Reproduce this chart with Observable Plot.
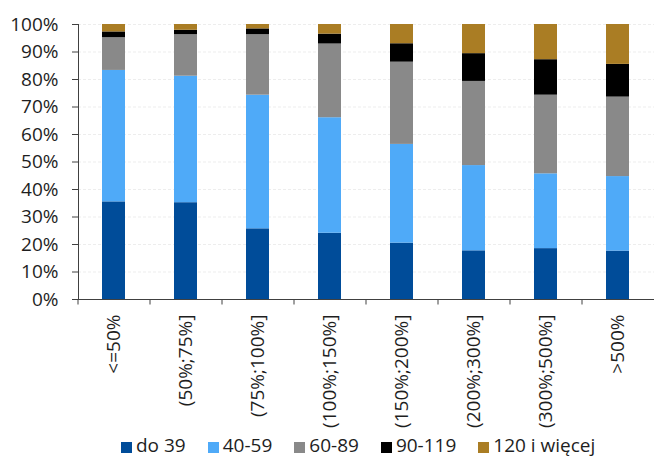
<!DOCTYPE html>
<html>
<head>
<meta charset="utf-8">
<script src="https://cdn.jsdelivr.net/npm/d3@7"></script>
<script src="https://cdn.jsdelivr.net/npm/@observablehq/plot@0.6"></script>
<style>
  html, body { margin: 0; padding: 0; background: #fff; }
  #chart { width: 654px; height: 457px; position: relative; font-family: "Open Sans", sans-serif; color: #1e1e1e; overflow: hidden; }
  #chart svg { position: absolute; left: 0; top: 0; }
  #legend { position: absolute; left: 121px; top: 436px; display: flex; align-items: flex-start; font-size: 19px; white-space: nowrap; }
  #legend .item { display: flex; align-items: flex-start; margin-right: 22px; }
  #legend .sw { width: 11px; height: 11px; margin-top: 6px; margin-right: 4px; }
  #legend .txt { display: inline-block; line-height: 19px; height: 19px; }
</style>
</head>
<body>
<div id="chart"></div>
<script>
// Share of each group per range bucket (percent, each bucket sums to 100)
const categories = ["<=50%", "(50%;75%]", "(75%;100%]", "(100%;150%]", "(150%;200%]", "(200%;300%]", "(300%;500%]", ">500%"];
const seriesNames = ["do 39", "40-59", "60-89", "90-119", "120 i więcej"];
const seriesColors = ["#004c99", "#4faaf8", "#898989", "#000000", "#aa7d24"];

const do39 = [35.5, 35.2, 25.7, 24.1, 20.5, 17.7, 18.5, 17.6];
const s40to59 = [47.8, 46.0, 48.6, 42.0, 35.9, 31.0, 27.2, 27.1];
const s60to89 = [11.9, 15.1, 22.0, 26.8, 29.9, 30.6, 28.6, 28.9];
const s90to119 = [2.1, 1.6, 2.1, 3.6, 6.7, 10.1, 12.9, 11.9];
const s120plus = [2.7, 2.1, 1.6, 3.5, 7.0, 10.6, 12.8, 14.5];

const yTicks = [0, 10, 20, 30, 40, 50, 60, 70, 80, 90, 100];

const seriesValues = [do39, s40to59, s60to89, s90to119, s120plus];
const rows = [];
seriesNames.forEach((name, s) => {
  categories.forEach((cat, i) => rows.push({category: cat, series: name, value: seriesValues[s][i]}));
});

const W = 654, H = 437, ML = 78, MR = 0;
const step = (W - ML - MR) / categories.length;

const chart = Plot.plot({
  width: W,
  height: H,
  marginLeft: ML,
  marginRight: MR,
  marginTop: 24,
  marginBottom: 138,
  style: {fontFamily: "Open Sans, sans-serif", fontSize: "19px", color: "#1e1e1e", background: "#fff"},
  x: {domain: categories, paddingInner: 0.68, paddingOuter: 0.34},
  y: {domain: [0, 100]},
  color: {domain: seriesNames, range: seriesColors},
  marks: [
    Plot.gridY(yTicks, {stroke: "#d8d8d8", strokeOpacity: 0.45, strokeDasharray: "3,2"}),
    Plot.barY(rows, Plot.stackY({order: seriesNames}, {x: "category", y: "value", fill: "series", z: "series", inset: 0})),
    Plot.frame({anchor: "left", stroke: "#404040"}),
    Plot.frame({anchor: "bottom", stroke: "#404040"}),
    Plot.axisY(yTicks, {tickSize: 6, tickPadding: 14, tickFormat: d => d + "%", label: null, stroke: "#404040"}),
    // boundary ticks between category bands
    Plot.ruleX(categories, {x: d => d, dx: -step / 2, y1: 0, y2: -2, stroke: "#404040"}),
    Plot.axisX({tickSize: 0, tickPadding: 15, tickRotate: -90, label: null})
  ]
});

const root = document.getElementById("chart");
root.appendChild(chart);

const legend = document.createElement("div");
legend.id = "legend";
seriesNames.forEach((name, i) => {
  const item = document.createElement("div");
  item.className = "item";
  const sw = document.createElement("span");
  sw.className = "sw";
  sw.style.background = seriesColors[i];
  const label = document.createElement("span");
  label.className = "txt";
  label.textContent = name;
  item.appendChild(sw);
  item.appendChild(label);
  legend.appendChild(item);
});
root.appendChild(legend);
</script>
</body>
</html>
